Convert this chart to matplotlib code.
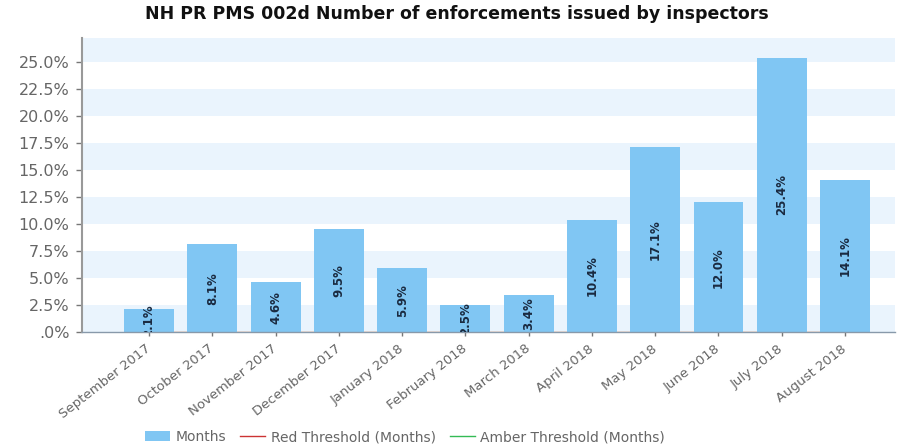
import matplotlib
matplotlib.use("Agg")
import matplotlib.pyplot as plt
from matplotlib.lines import Line2D
from matplotlib.patches import Patch

months = ["September 2017", "October 2017", "November 2017", "December 2017",
          "January 2018", "February 2018", "March 2018", "April 2018",
          "May 2018", "June 2018", "July 2018", "August 2018"]
values = [2.1, 8.1, 4.6, 9.5, 5.9, 2.5, 3.4, 10.4, 17.1, 12.0, 25.4, 14.1]
red_threshold = [0] * len(months)
amber_threshold = [0] * len(months)
yticks = [0, 2.5, 5, 7.5, 10, 12.5, 15, 17.5, 20, 22.5, 25]
ytick_labels = [".0%", "2.5%", "5.0%", "7.5%", "10.0%", "12.5%", "15.0%",
                "17.5%", "20.0%", "22.5%", "25.0%"]

plt.rcParams["font.family"] = ["DejaVu Sans"]
fig = plt.figure(figsize=(8.97, 4.48), dpi=100)
ax = fig.add_axes([0.0914, 0.259, 0.9064, 0.656])

ymax = 27.2
# alternating plot bands
for lo in range(0, 30, 5):
    ax.axhspan(lo, lo + 2.5, color="#eaf4fd", zorder=0, lw=0)

x = list(range(len(months)))
ax.bar(x, values, width=0.79, color="#80c6f3", zorder=2)
ax.plot(x, red_threshold, color="#e8a090", lw=1, zorder=1)
ax.plot(x, amber_threshold, color="#f0c090", lw=1, zorder=1)

for xi, v in zip(x, values):
    ax.text(xi, v / 2, "%.1f%%" % v, rotation=90, ha="center", va="center",
            fontsize=8.5, fontweight="bold", color="#1a2a40", clip_on=True,
            zorder=3)

ax.set_xlim(-1.06, 11.79)
ax.set_ylim(0, ymax)
ax.set_yticks(yticks)
ax.set_yticklabels(ytick_labels)
ax.set_xticks(x)
ax.set_xticklabels(months, rotation=38, ha="right", va="center",
                   rotation_mode="anchor")
ax.tick_params(axis="y", labelsize=11.5, colors="#777777", length=4, width=1,
               pad=5)
ax.tick_params(axis="x", labelsize=9.5, colors="#777777", length=3, width=1,
               pad=8)
for lab in ax.get_xticklabels():
    lab.set_color("#666666")
for lab in ax.get_yticklabels():
    lab.set_color("#666666")

for s in ["top", "right"]:
    ax.spines[s].set_visible(False)
ax.spines["left"].set_color("#999999")
ax.spines["left"].set_linewidth(1.5)
ax.spines["bottom"].set_color("#8899aa")
ax.spines["bottom"].set_linewidth(1)

fig.text(457 / 897, 1 - 14 / 448,
         "NH PR PMS 002d Number of enforcements issued by inspectors",
         ha="center", va="center", fontsize=12.5, fontweight="bold",
         color="#111111")

handles = [Patch(facecolor="#80c6f3", edgecolor="none"),
           Line2D([0], [0], color="#cc3333", lw=1),
           Line2D([0], [0], color="#33bb55", lw=1)]
fig.legend(handles, ["Months", "Red Threshold (Months)",
                     "Amber Threshold (Months)"],
           loc="center", bbox_to_anchor=(405 / 897, 1 - 437 / 448), ncol=3,
           frameon=False, fontsize=10, labelcolor="#666666",
           handlelength=1.8, handleheight=0.8, columnspacing=1.0,
           handletextpad=0.4)

fig.savefig("out.png", dpi=100)
